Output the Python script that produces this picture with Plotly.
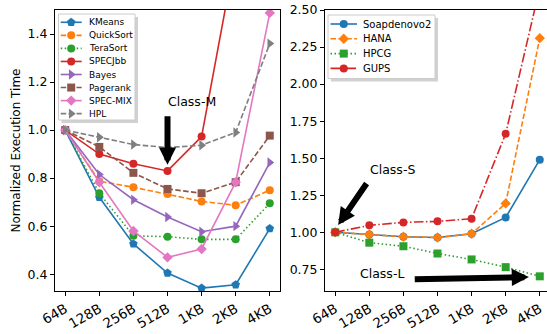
import plotly.graph_objects as go

sizes = ["64B", "128B", "256B", "512B", "1KB", "2KB", "4KB"]

# Left panel series
kmeans    = [1.0, 0.72, 0.526, 0.405, 0.342, 0.356, 0.59]
quicksort = [1.0, 0.787, 0.762, 0.734, 0.703, 0.687, 0.75]
terasort  = [1.0, 0.737, 0.56, 0.556, 0.545, 0.545, 0.695]
specjbb   = [1.0, 0.90, 0.86, 0.83, 0.973, 1.68, 2.5]
bayes     = [1.0, 0.815, 0.71, 0.638, 0.577, 0.60, 0.865]
pagerank  = [1.0, 0.93, 0.822, 0.755, 0.737, 0.783, 0.977]
specmix   = [1.0, 0.783, 0.58, 0.47, 0.505, 0.783, 1.488]
hpl       = [1.0, 0.97, 0.94, 0.927, 0.937, 0.99, 1.36]

# Right panel series
soapdenovo2 = [1.0, 0.985, 0.97, 0.965, 0.99, 1.10, 1.49]
hana        = [1.0, 0.985, 0.97, 0.965, 0.99, 1.195, 2.31]
hpcg        = [1.0, 0.93, 0.906, 0.857, 0.817, 0.765, 0.703]
gups        = [1.0, 1.047, 1.067, 1.074, 1.092, 1.665, 2.65]

left_names = ["KMeans", "QuickSort", "TeraSort", "SPECJbb", "Bayes", "Pagerank", "SPEC-MIX", "HPL"]
left_vals = [kmeans, quicksort, terasort, specjbb, bayes, pagerank, specmix, hpl]
right_names = ["Soapdenovo2", "HANA", "HPCG", "GUPS"]
right_vals = [soapdenovo2, hana, hpcg, gups]

DASH = "5.5px,2.4px"
DOT = "1.5px,2.5px"
DASHDOT = "9.6px,2.4px,1.5px,2.4px"

left_styles = [
    ("#1f77b4", "solid", "pentagon", 9),
    ("#ff7f0e", DASH, "circle", 8),
    ("#2ca02c", DOT, "circle", 8),
    ("#d62728", "solid", "circle", 8),
    ("#9467bd", "solid", "triangle-right", 9),
    ("#8c564b", DASH, "square", 8),
    ("#e377c2", "solid", "diamond", 8),
    ("#7f7f7f", DASH, "triangle-right", 9),
]
right_styles = [
    ("#1f77b4", "solid", "circle", 8),
    ("#ff7f0e", DASH, "diamond", 8),
    ("#2ca02c", DOT, "square", 8),
    ("#d62728", DASHDOT, "circle", 8),
]

FONT = "DejaVu Sans"
W, H = 547, 334
fig = go.Figure()
idx = list(range(len(sizes)))

for name, vals, (c, d, m, s) in zip(left_names, left_vals, left_styles):
    fig.add_trace(go.Scatter(x=idx, y=vals, mode="lines+markers", name=name,
                             line=dict(color=c, width=1.6, dash=d),
                             marker=dict(symbol=m, size=s, color=c),
                             xaxis="x", yaxis="y", showlegend=False))
for name, vals, (c, d, m, s) in zip(right_names, right_vals, right_styles):
    fig.add_trace(go.Scatter(x=idx, y=vals, mode="lines+markers", name=name,
                             line=dict(color=c, width=1.6, dash=d),
                             marker=dict(symbol=m, size=s, color=c),
                             xaxis="x2", yaxis="y2", showlegend=False))

annotations = []

# Custom legends (pixel-coordinate overlay axes x3/y3)
def add_legend(names, styles, box, y0, step, lx0, lx1, tx, fsize):
    bx0, by0, bx1, by1 = box
    # shadow
    fig.add_trace(go.Scatter(x=[bx0 + 3, bx1 + 3, bx1 + 3, bx0 + 3, bx0 + 3],
                             y=[by0 + 3, by0 + 3, by1 + 3, by1 + 3, by0 + 3],
                             mode="lines", fill="toself", fillcolor="rgba(0,0,0,0.18)",
                             line=dict(width=0), xaxis="x3", yaxis="y3",
                             showlegend=False, hoverinfo="skip"))
    fig.add_trace(go.Scatter(x=[bx0, bx1, bx1, bx0, bx0], y=[by0, by0, by1, by1, by0],
                             mode="lines", fill="toself", fillcolor="white",
                             line=dict(width=1, color="#cccccc"), xaxis="x3", yaxis="y3",
                             showlegend=False, hoverinfo="skip"))
    for i, (name, (c, d, m, s)) in enumerate(zip(names, styles)):
        yy = y0 + i * step
        fig.add_trace(go.Scatter(x=[lx0, lx1], y=[yy, yy], mode="lines",
                                 line=dict(color=c, width=1.6, dash=d),
                                 xaxis="x3", yaxis="y3", showlegend=False, hoverinfo="skip"))
        fig.add_trace(go.Scatter(x=[(lx0 + lx1) / 2], y=[yy], mode="markers",
                                 marker=dict(symbol=m, size=s, color=c),
                                 xaxis="x3", yaxis="y3", showlegend=False, hoverinfo="skip"))
        annotations.append(dict(x=tx, y=yy, xref="x3", yref="y3", text=name, showarrow=False,
                                xanchor="left", yanchor="middle",
                                font=dict(family=FONT, size=fsize, color="black")))

add_legend(left_names, left_styles, (58.5, 14, 135, 120), 22.3, 13.05, 60.7, 81.7, 86.5, 9)
add_legend(right_names, right_styles, (328, 15, 435, 78.5), 24, 14.8, 330.5, 357, 360.5, 10)

# Text / arrow annotations
AFONT = dict(family=FONT, size=12.5, color="black")
arrow = dict(showarrow=True, arrowhead=2, arrowwidth=6, arrowsize=0.57, arrowcolor="black",
             axref="pixel", ayref="pixel", text="")
annotations += [
    dict(x=3.72, y=1.12, xref="x", yref="y", text="Class-M", showarrow=False, font=AFONT),
    dict(x=3, y=0.856, xref="x", yref="y", ax=0, ay=-50, **arrow),
    dict(x=1.68, y=1.423, xref="x2", yref="y2", text="Class-S", showarrow=False, font=AFONT),
    dict(x=0.085, y=1.049, xref="x2", yref="y2", ax=29.5, ay=-43, **arrow),
    dict(x=1.36, y=0.725, xref="x2", yref="y2", text="Class-L", showarrow=False, font=AFONT),
    dict(x=5.68, y=0.698, xref="x2", yref="y2", ax=-115.6, ay=2.2, **arrow),
]

axis_common = dict(showline=True, linecolor="black", linewidth=1, ticks="outside",
                   ticklen=4, tickwidth=1, tickcolor="black", showgrid=False, zeroline=False,
                   automargin=False)
XTF = dict(family=FONT, size=13.5, color="black")
YTF = dict(family=FONT, size=12.5, color="black")

fig.update_layout(
    width=W, height=H,
    margin=dict(l=0, r=0, t=10, b=43),
    paper_bgcolor="white", plot_bgcolor="rgba(0,0,0,0)",
    font=dict(family=FONT, color="black"),
    xaxis=dict(domain=[55 / W, 280 / W], range=[-0.3, 6.3], tickvals=idx, ticktext=sizes,
               tickangle=-30, mirror=True, anchor="y", tickfont=XTF, **axis_common),
    yaxis=dict(domain=[0, 1], range=[0.33, 1.5], tickvals=[0.4, 0.6, 0.8, 1.0, 1.2, 1.4],
               tickformat=".1f", mirror=True, anchor="x", tickfont=YTF,
               title=dict(text="Normalized Execution Time", standoff=4,
                          font=dict(family=FONT, size=12, color="black")),
               **axis_common),
    xaxis2=dict(domain=[325 / W, 1], range=[-0.3, 6.212], tickvals=idx, ticktext=sizes,
                tickangle=-30, mirror=True, anchor="y2", tickfont=XTF, **axis_common),
    yaxis2=dict(domain=[0, 1], range=[0.604, 2.5],
                tickvals=[0.75, 1.0, 1.25, 1.5, 1.75, 2.0, 2.25, 2.5],
                tickformat=".2f", mirror=False, anchor="x2", tickfont=YTF, **axis_common),
    xaxis3=dict(domain=[0, 1], range=[0, W], visible=False, anchor="y3", fixedrange=True),
    yaxis3=dict(domain=[0, 1], range=[291, 10], visible=False, anchor="x3", fixedrange=True),
    annotations=annotations,
    showlegend=False,
)

fig.write_html("out.html", config={"displayModeBar": False},
               post_script="document.body.style.margin='0';")
